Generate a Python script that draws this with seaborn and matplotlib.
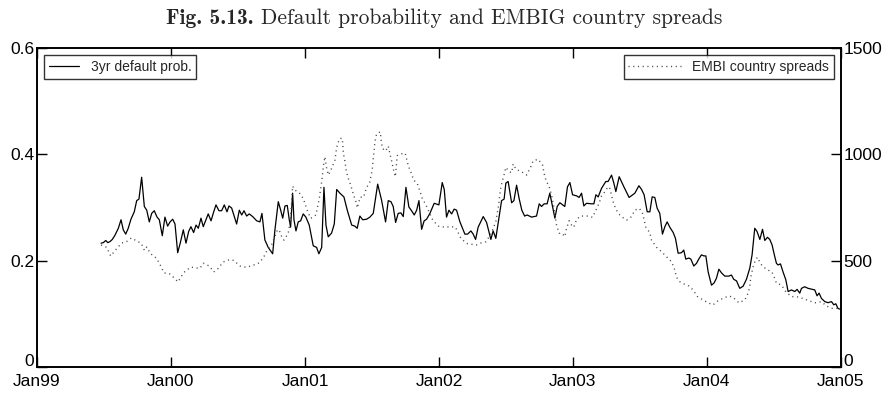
import matplotlib
matplotlib.use("Agg")
import matplotlib.pyplot as plt
import matplotlib.dates as mdates
import matplotlib.transforms as mtransforms
import numpy as np
import pandas as pd
import seaborn as sns

# 3-year default probability (decimal year, probability)
prob_year = [
    1999.478, 1999.495, 1999.513, 1999.528, 1999.545, 1999.562, 1999.582, 1999.607, 1999.627, 1999.644,
    1999.662, 1999.681, 1999.701, 1999.726, 1999.744, 1999.761, 1999.781, 1999.801, 1999.819, 1999.838,
    1999.856, 1999.875, 1999.896, 1999.913, 1999.935, 1999.955, 1999.975, 1999.993, 2000.013, 2000.030,
    2000.050, 2000.069, 2000.092, 2000.112, 2000.132, 2000.149, 2000.169, 2000.187, 2000.204, 2000.224,
    2000.241, 2000.261, 2000.278, 2000.299, 2000.319, 2000.336, 2000.358, 2000.378, 2000.398, 2000.418,
    2000.433, 2000.453, 2000.490, 2000.510, 2000.528, 2000.545, 2000.565, 2000.584, 2000.610, 2000.640,
    2000.664, 2000.679, 2000.701, 2000.726, 2000.759, 2000.776, 2000.801, 2000.819, 2000.834, 2000.851,
    2000.868, 2000.883, 2000.893, 2000.908, 2000.918, 2000.933, 2000.950, 2000.968, 2000.987, 2001.007,
    2001.032, 2001.062, 2001.087, 2001.104, 2001.125, 2001.142, 2001.157, 2001.174, 2001.199, 2001.219,
    2001.237, 2001.261, 2001.291, 2001.316, 2001.349, 2001.373, 2001.390, 2001.410, 2001.431, 2001.460,
    2001.485, 2001.510, 2001.543, 2001.572, 2001.602, 2001.622, 2001.642, 2001.659, 2001.677, 2001.696,
    2001.716, 2001.734, 2001.754, 2001.776, 2001.796, 2001.816, 2001.834, 2001.851, 2001.871, 2001.890,
    2001.908, 2001.933, 2001.965, 2002.000, 2002.025, 2002.040, 2002.057, 2002.075, 2002.095, 2002.114,
    2002.132, 2002.157, 2002.194, 2002.214, 2002.239, 2002.256, 2002.274, 2002.293, 2002.331, 2002.356,
    2002.388, 2002.405, 2002.425, 2002.448, 2002.468, 2002.487, 2002.500, 2002.517, 2002.543, 2002.560,
    2002.580, 2002.599, 2002.619, 2002.640, 2002.659, 2002.692, 2002.729, 2002.749, 2002.766, 2002.786,
    2002.808, 2002.828, 2002.848, 2002.866, 2002.883, 2002.903, 2002.940, 2002.960, 2002.978, 2002.998,
    2003.028, 2003.047, 2003.065, 2003.082, 2003.102, 2003.140, 2003.157, 2003.172, 2003.189, 2003.214,
    2003.246, 2003.263, 2003.289, 2003.306, 2003.321, 2003.346, 2003.381, 2003.420, 2003.463, 2003.493,
    2003.513, 2003.532, 2003.555, 2003.575, 2003.592, 2003.612, 2003.629, 2003.649, 2003.669, 2003.687,
    2003.704, 2003.724, 2003.749, 2003.766, 2003.786, 2003.811, 2003.828, 2003.843, 2003.866, 2003.881,
    2003.903, 2003.923, 2003.940, 2003.960, 2003.978, 2003.993, 2004.010, 2004.035, 2004.054, 2004.072,
    2004.090, 2004.110, 2004.134, 2004.164, 2004.184, 2004.201, 2004.222, 2004.246, 2004.271, 2004.296,
    2004.321, 2004.338, 2004.358, 2004.375, 2004.396, 2004.416, 2004.433, 2004.453, 2004.470, 2004.487,
    2004.507, 2004.520, 2004.532, 2004.550, 2004.569, 2004.590, 2004.607, 2004.632, 2004.657, 2004.674,
    2004.694, 2004.707, 2004.731, 2004.756, 2004.789, 2004.806, 2004.823, 2004.838, 2004.856, 2004.881,
    2004.905, 2004.931, 2004.948, 2004.963, 2004.980, 2004.993,
]
prob_value = [
    0.233, 0.234, 0.238, 0.234, 0.236, 0.240, 0.248, 0.261, 0.277, 0.258,
    0.250, 0.261, 0.278, 0.292, 0.313, 0.316, 0.357, 0.302, 0.295, 0.273,
    0.289, 0.294, 0.282, 0.277, 0.247, 0.282, 0.265, 0.273, 0.278, 0.269,
    0.215, 0.233, 0.258, 0.233, 0.255, 0.264, 0.253, 0.267, 0.261, 0.280,
    0.264, 0.277, 0.288, 0.275, 0.292, 0.305, 0.294, 0.294, 0.305, 0.292,
    0.303, 0.299, 0.269, 0.295, 0.286, 0.294, 0.284, 0.288, 0.283, 0.275,
    0.273, 0.289, 0.239, 0.225, 0.213, 0.258, 0.311, 0.295, 0.280, 0.303,
    0.304, 0.277, 0.263, 0.327, 0.277, 0.256, 0.273, 0.275, 0.288, 0.282,
    0.267, 0.228, 0.225, 0.213, 0.225, 0.338, 0.267, 0.245, 0.252, 0.269,
    0.334, 0.327, 0.320, 0.295, 0.267, 0.265, 0.261, 0.284, 0.277, 0.278,
    0.282, 0.289, 0.344, 0.314, 0.273, 0.313, 0.311, 0.302, 0.272, 0.289,
    0.290, 0.283, 0.338, 0.301, 0.294, 0.286, 0.295, 0.313, 0.259, 0.275,
    0.278, 0.289, 0.308, 0.305, 0.347, 0.334, 0.282, 0.295, 0.288, 0.297,
    0.295, 0.273, 0.250, 0.250, 0.256, 0.250, 0.240, 0.263, 0.283, 0.272,
    0.240, 0.256, 0.242, 0.280, 0.313, 0.316, 0.346, 0.349, 0.309, 0.313,
    0.342, 0.317, 0.295, 0.284, 0.286, 0.282, 0.284, 0.307, 0.302, 0.307,
    0.307, 0.327, 0.302, 0.280, 0.302, 0.309, 0.302, 0.339, 0.347, 0.324,
    0.322, 0.319, 0.327, 0.303, 0.308, 0.307, 0.307, 0.324, 0.320, 0.336,
    0.349, 0.349, 0.361, 0.346, 0.330, 0.358, 0.339, 0.319, 0.327, 0.341,
    0.334, 0.324, 0.292, 0.292, 0.320, 0.319, 0.299, 0.289, 0.250, 0.264,
    0.273, 0.263, 0.253, 0.242, 0.214, 0.215, 0.220, 0.203, 0.205, 0.203,
    0.190, 0.195, 0.203, 0.211, 0.209, 0.209, 0.179, 0.154, 0.158, 0.167,
    0.184, 0.177, 0.171, 0.171, 0.173, 0.165, 0.162, 0.148, 0.152, 0.165,
    0.186, 0.211, 0.261, 0.255, 0.240, 0.259, 0.238, 0.244, 0.240, 0.230,
    0.208, 0.195, 0.192, 0.194, 0.179, 0.164, 0.142, 0.145, 0.142, 0.146,
    0.139, 0.148, 0.151, 0.148, 0.146, 0.145, 0.134, 0.139, 0.129, 0.123,
    0.121, 0.123, 0.117, 0.119, 0.110, 0.109,
]

# EMBI country spreads (decimal year, basis points)
spread_year = [
    1999.478, 1999.520, 1999.550, 1999.590, 1999.631, 1999.669, 1999.705, 1999.740, 1999.778, 1999.802,
    1999.819, 1999.846, 1999.893, 1999.922, 1999.948, 1999.993, 2000.030, 2000.052, 2000.084, 2000.104,
    2000.148, 2000.187, 2000.216, 2000.241, 2000.286, 2000.319, 2000.353, 2000.390, 2000.437, 2000.470,
    2000.515, 2000.562, 2000.610, 2000.660, 2000.694, 2000.720, 2000.751, 2000.780, 2000.796, 2000.813,
    2000.832, 2000.843, 2000.875, 2000.888, 2000.901, 2000.908, 2000.925, 2000.957, 2000.987, 2001.017,
    2001.043, 2001.082, 2001.107, 2001.125, 2001.137, 2001.149, 2001.162, 2001.175, 2001.199, 2001.224,
    2001.234, 2001.243, 2001.261, 2001.279, 2001.287, 2001.299, 2001.308, 2001.321, 2001.343, 2001.363,
    2001.384, 2001.390, 2001.413, 2001.437, 2001.460, 2001.483, 2001.502, 2001.510, 2001.517, 2001.522,
    2001.535, 2001.562, 2001.569, 2001.578, 2001.603, 2001.622, 2001.634, 2001.649, 2001.660, 2001.675,
    2001.689, 2001.716, 2001.748, 2001.760, 2001.772, 2001.790, 2001.812, 2001.838, 2001.858, 2001.877,
    2001.901, 2001.913, 2001.955, 2001.995, 2002.049, 2002.086, 2002.123, 2002.166, 2002.213, 2002.281,
    2002.306, 2002.351, 2002.388, 2002.425, 2002.444, 2002.459, 2002.472, 2002.485, 2002.500, 2002.525,
    2002.543, 2002.555, 2002.575, 2002.617, 2002.655, 2002.684, 2002.704, 2002.741, 2002.774, 2002.784,
    2002.799, 2002.823, 2002.841, 2002.858, 2002.878, 2002.898, 2002.916, 2002.940, 2002.953, 2002.972,
    2002.990, 2003.007, 2003.028, 2003.057, 2003.097, 2003.114, 2003.147, 2003.172, 2003.196, 2003.214,
    2003.239, 2003.263, 2003.276, 2003.301, 2003.321, 2003.356, 2003.401, 2003.438, 2003.463, 2003.495,
    2003.517, 2003.532, 2003.543, 2003.575, 2003.587, 2003.625, 2003.662, 2003.699, 2003.737, 2003.761,
    2003.774, 2003.799, 2003.831, 2003.866, 2003.898, 2003.931, 2003.973, 2004.010, 2004.047, 2004.072,
    2004.104, 2004.140, 2004.164, 2004.196, 2004.239, 2004.284, 2004.308, 2004.321, 2004.328, 2004.346,
    2004.363, 2004.378, 2004.403, 2004.445, 2004.485, 2004.507, 2004.520, 2004.557, 2004.590, 2004.632,
    2004.669, 2004.714, 2004.763, 2004.806, 2004.856, 2004.893, 2004.931, 2004.972, 2004.993,
]
spread_value = [
    574, 563, 522, 553, 583, 590, 607, 594, 582, 548,
    564, 534, 511, 477, 443, 437, 415, 400, 433, 449,
    470, 466, 464, 488, 475, 447, 464, 494, 505, 501,
    475, 469, 478, 490, 519, 552, 574, 621, 647, 636,
    604, 597, 629, 676, 777, 851, 832, 820, 793, 738,
    699, 715, 793, 871, 942, 989, 934, 903, 934, 973,
    1020, 1049, 1075, 1075, 1005, 965, 926, 892, 853, 809,
    771, 748, 799, 798, 844, 868, 926, 981, 1020, 1059,
    1096, 1106, 1067, 1028, 1016, 1039, 1004, 965, 930, 895,
    994, 1002, 1006, 976, 945, 918, 879, 864, 828, 790,
    766, 748, 690, 663, 657, 660, 658, 603, 580, 574,
    582, 589, 625, 683, 754, 832, 871, 900, 939, 918,
    914, 955, 930, 918, 903, 939, 970, 977, 950, 914,
    879, 848, 809, 754, 668, 629, 631, 613, 652, 688,
    668, 657, 694, 710, 710, 710, 704, 738, 770, 804,
    824, 848, 840, 777, 742, 710, 691, 707, 738, 746,
    730, 694, 660, 631, 597, 563, 542, 519, 495, 456,
    422, 401, 390, 381, 362, 331, 315, 302, 292, 307,
    318, 328, 334, 328, 302, 315, 347, 378, 422, 472,
    503, 516, 484, 459, 448, 417, 394, 386, 354, 331,
    331, 323, 312, 302, 307, 287, 276, 276, 265,
]

prob_ticks = [0, 0.2, 0.4, 0.6]
prob_tick_labels = ["0", "0.2", "0.4", "0.6"]
spread_ticks = [0, 500, 1000, 1500]
spread_tick_labels = ["0", "500", "1000", "1500"]
year_ticks = ["1999-01-01", "2000-01-01", "2001-01-01", "2002-01-01",
              "2003-01-01", "2004-01-01", "2005-01-01"]

title_bold = "Fig. 5.13."
title_rest = "Default probability and EMBIG country spreads"
prob_label = "3yr default prob."
spread_label = "EMBI country spreads"


def to_dates(years):
    years = np.asarray(years, dtype=float)
    base = pd.Timestamp("1999-01-01")
    return base + pd.to_timedelta((years - 1999.0) * 365.25, unit="D")


prob_df = pd.DataFrame({"date": to_dates(prob_year), "prob": prob_value})
spread_df = pd.DataFrame({"date": to_dates(spread_year), "spread": spread_value})

sns.set_style("ticks")
plt.rcParams["font.family"] = ["Liberation Sans", "DejaVu Sans"]

W, H = 888, 394
fig = plt.figure(figsize=(W / 100, H / 100), dpi=100)
ax = fig.add_axes([0.0417, 0.0685, 0.9053, 0.8095])
ax2 = ax.twinx()

sns.lineplot(data=prob_df, x="date", y="prob", ax=ax, color="black",
             linewidth=0.9, label=prob_label, legend=False)
sns.lineplot(data=spread_df, x="date", y="spread", ax=ax2, color="#4a4a4a",
             linewidth=1.0, linestyle=(0, (0.8, 2.6)), label=spread_label,
             legend=False)

ax.set_xlim(pd.Timestamp("1999-01-01"), pd.Timestamp("2005-01-01"))
ax.set_ylim(0, 0.6)
ax2.set_ylim(0, 1500)

ax.set_xticks(pd.to_datetime(year_ticks))
ax.xaxis.set_major_formatter(mdates.DateFormatter("%b%y"))
ax.set_yticks(prob_ticks)
ax.set_yticklabels(prob_tick_labels)
ax2.set_yticks(spread_ticks)
ax2.set_yticklabels(spread_tick_labels)

ax.set_xlabel("")
ax.set_ylabel("")
ax2.set_ylabel("")

for a in (ax, ax2):
    for sp in a.spines.values():
        sp.set_visible(True)
        sp.set_linewidth(1.2)
        sp.set_color("black")

ax.tick_params(axis="x", direction="in", length=7, width=1.0, top=True,
               bottom=True, labelsize=12.5, pad=5, colors="black")
ax.tick_params(axis="y", direction="in", length=7, width=1.0, left=True,
               right=False, labelsize=12.5, pad=2, colors="black")
ax2.tick_params(axis="y", direction="in", length=7, width=1.0, right=True,
                left=False, labelsize=12.5, pad=2, colors="black")

# lift the two zero labels a little so they sit above the date labels
lift = mtransforms.ScaledTranslation(0, 5 / 72, fig.dpi_scale_trans)
for lab in (ax.get_yticklabels()[0], ax2.get_yticklabels()[0]):
    lab.set_transform(lab.get_transform() + lift)

leg1 = ax.legend(handles=ax.get_lines()[:1], labels=[prob_label], loc="upper left",
                 frameon=True, fancybox=False, edgecolor="black", fontsize=10,
                 handlelength=2.2, borderpad=0.35, borderaxespad=0.5)
leg1.get_frame().set_linewidth(1.0)
leg2 = ax2.legend(handles=ax2.get_lines()[:1], labels=[spread_label], loc="upper right",
                  frameon=True, fancybox=False, edgecolor="black", fontsize=10,
                  handlelength=3.8, borderpad=0.35, borderaxespad=0.5)
leg2.get_frame().set_linewidth(1.0)

# title: bold figure number followed by the caption in Computer Modern
title_y = 1 - 18 / H
t1 = fig.text(0, title_y, title_bold, ha="left", va="center", fontsize=15.5,
              family="cmb10")
t2 = fig.text(0, title_y, title_rest, ha="left", va="center", fontsize=15.5,
              family="cmr10")
fig.canvas.draw()
renderer = fig.canvas.get_renderer()
w1 = t1.get_window_extent(renderer).width
w2 = t2.get_window_extent(renderer).width
gap = 8
start = (W - (w1 + gap + w2)) / 2
t1.set_x(start / W)
t2.set_x((start + w1 + gap) / W)

fig.savefig("out.png", dpi=100)
